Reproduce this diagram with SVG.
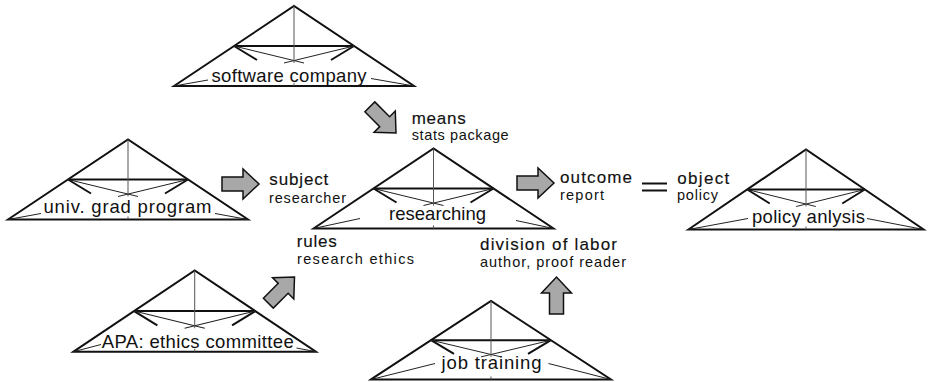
<svg xmlns="http://www.w3.org/2000/svg" xmlns:xlink="http://www.w3.org/1999/xlink" width="931" height="382" viewBox="0 0 931 382">
<style>
.o{fill:none;stroke:#111;stroke-width:2;stroke-linejoin:miter}
.m{fill:none;stroke:#111;stroke-width:2}
.t{fill:none;stroke:#222;stroke-width:1}
.v{fill:none;stroke:#555;stroke-width:1}
.c{fill:none;stroke:#222;stroke-width:1}
.lab{font-family:"Liberation Sans",Arial,sans-serif;font-size:18.5px;fill:#111}
.main{font-family:"Liberation Sans",Arial,sans-serif;font-size:17px;fill:#111;stroke:#111;stroke-width:0.15}
.sub{font-family:"Liberation Sans",Arial,sans-serif;font-size:14.5px;fill:#111}
.arr{fill:#a8a8a8;stroke:#111;stroke-width:1.5;stroke-linejoin:miter}
.eq{stroke:#111;stroke-width:2.2}
</style>
<defs>
<g id="tri">
<path class="o" d="M-120,80 L0,0 L120,80 Z"/>
<path class="m" d="M-60,40 H60 M-60,40 L-37,54 M60,40 L37,54"/>
<path class="t" d="M-60,40 L10,57 M60,40 L-10,57"/>
<path class="v" d="M0,0 V57 M0,77 V80"/>
</g>
<path id="arrow" class="arr" d="M-37,-7 H-16 V-15 L0,0 L-16,15 V7 H-37 Z"/>
</defs>

<g id="software-company">
<use xlink:href="#tri" transform="translate(294,6)"/>
<path class="c" d="M174,86 L208,80 M414,86 L371,78.5"/>
<text class="lab" x="211.5" y="82" textLength="155" lengthAdjust="spacing">software company</text>
</g>

<g id="univ-grad-program">
<use xlink:href="#tri" transform="translate(128,139.5)"/>
<path class="c" d="M8,219.5 L41,213.5 M248,219.5 L215,213.5"/>
<text class="lab" x="43.5" y="213" textLength="168" lengthAdjust="spacing">univ. grad program</text>
</g>

<g id="researching">
<use xlink:href="#tri" transform="translate(433.5,148.5)"/>
<path class="c" d="M313.5,228.5 L360,218.5 M553.5,228.5 L516,220.5"/>
<text class="lab" x="389" y="220" textLength="97" lengthAdjust="spacing">researching</text>
</g>

<g id="policy-anlysis">
<use xlink:href="#tri" transform="translate(806,149.5) scale(0.98,1)"/>
<path class="c" d="M688.5,229.5 L748,218.5 M923.5,229.5 L867,218.5"/>
<text class="lab" x="752" y="223" textLength="113" lengthAdjust="spacing">policy anlysis</text>
</g>

<g id="apa-ethics-committee">
<use xlink:href="#tri" transform="translate(194.7,270.5) scale(1.01,1.015)"/>
<path class="c" d="M73.5,351.7 L101,344.5 M316,351.7 L296.5,348"/>
<text class="lab" x="101.7" y="347.5" textLength="192" lengthAdjust="spacing">APA: ethics committee</text>
</g>

<g id="job-training">
<use xlink:href="#tri" transform="translate(491,301) scale(1,0.98)"/>
<path class="c" d="M371,379.5 L435,363.5 M611,379.5 L548.5,363.5"/>
<text class="lab" x="441.5" y="368.5" textLength="100" lengthAdjust="spacing">job training</text>
</g>

<g id="means">
<text class="main" x="411.7" y="124" textLength="54" lengthAdjust="spacing">means</text>
<text class="sub" x="411.7" y="139.5" textLength="97" lengthAdjust="spacing">stats package</text>
</g>
<g id="subject">
<text class="main" x="269.3" y="185" textLength="59" lengthAdjust="spacing">subject</text>
<text class="sub" x="269" y="203" textLength="77" lengthAdjust="spacing">researcher</text>
</g>
<g id="rules">
<text class="main" x="296.7" y="246.5" textLength="40" lengthAdjust="spacing">rules</text>
<text class="sub" x="297" y="264" textLength="117" lengthAdjust="spacing">research ethics</text>
</g>
<g id="outcome">
<text class="main" x="560" y="183" textLength="72" lengthAdjust="spacing">outcome</text>
<text class="sub" x="560" y="200" textLength="44" lengthAdjust="spacing">report</text>
</g>
<g id="object">
<text class="main" x="677.3" y="183.5" textLength="52" lengthAdjust="spacing">object</text>
<text class="sub" x="677" y="200" textLength="41" lengthAdjust="spacing">policy</text>
</g>
<g id="division-of-labor">
<text class="main" x="480" y="250" textLength="137" lengthAdjust="spacing">division of labor</text>
<text class="sub" x="480" y="267" textLength="146" lengthAdjust="spacing">author, proof reader</text>
</g>

<g id="connectors">
<use xlink:href="#arrow" transform="translate(259,184)"/>
<use xlink:href="#arrow" transform="translate(554,183)"/>
<use xlink:href="#arrow" transform="translate(396,133) rotate(45)"/>
<use xlink:href="#arrow" transform="translate(294.5,277) rotate(-45)"/>
<use xlink:href="#arrow" transform="translate(556.5,277) rotate(-90)"/>
<path class="eq" d="M642,183.5 H667 M642,190.5 H667"/>
</g>
</svg>
